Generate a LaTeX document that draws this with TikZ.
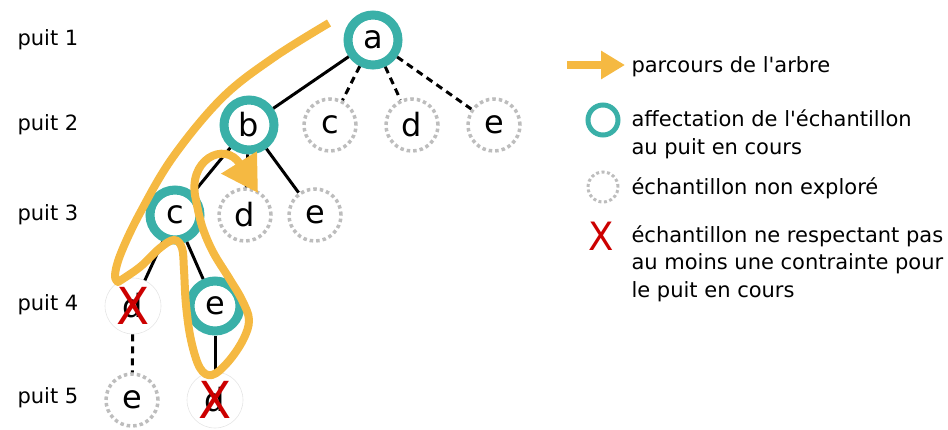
\documentclass[tikz,border=0pt]{standalone}
\usepackage{fontspec}
\setmainfont{DejaVu Sans}
\usetikzlibrary{positioning,arrows.meta}
\definecolor{sarcelle}{HTML}{3AB0A8}
\definecolor{orangeparc}{HTML}{F5B942}
\definecolor{grisclair}{HTML}{BDBDBD}
\definecolor{rouge}{HTML}{CC0000}

\tikzset{
  noeud/.style={circle,inner sep=0pt,font=\fontsize{32}{32}\selectfont},
  affecte/.style={noeud,draw=sarcelle,line width=9pt,minimum size=50pt},
  inexplore/.style={noeud,draw=grisclair,line width=3.5pt,dash pattern=on 3.5pt off 3pt,minimum size=52pt},
  rejete/.style={noeud,draw=black!10,line width=0.6pt,minimum size=56pt},
  croix/.style={text=rouge,inner sep=0pt,font=\fontsize{51}{51}\selectfont},
  arete/.style={line width=3pt},
  pointille/.style={arete,dash pattern=on 7pt off 5pt},
  parcours/.style={draw=orangeparc,line width=8pt,line join=round},
  puit/.style={anchor=west,font=\fontsize{21}{27}\selectfont},
  legende/.style={anchor=base west,align=left,font=\fontsize{21}{27.5}\selectfont}
}
\newcommand{\croixX}{\scalebox{0.95}[1]{X}}

\begin{document}
\begin{tikzpicture}[x=1pt,y=-1pt,on grid]
  \useasboundingbox (0,0) rectangle (948,429);

  % niveaux
  \node[puit] (p1) at (14,40) {puit 1};
  \node[puit] (p2) at (14,125) {puit 2};
  \node[puit] (p3) at (14,215) {puit 3};
  \node[puit] (p4) at (14,305) {puit 4};
  \node[puit] (p5) at (14,398) {puit 5};

  % arbre
  \node[affecte] (a) at (373,40) {a};
  \node[affecte] (b) at (249,125) {b};
  \node[inexplore] (c2) [right=81pt of b] {c};
  \node[inexplore] (d2) [right=82pt of c2] {d};
  \node[inexplore] (e2) [right=82pt of d2] {e};
  \node[affecte] (c3) at (175,215) {c};
  \node[inexplore] (d3) [right=70pt of c3] {d};
  \node[inexplore] (e3) [right=70pt of d3] {e};
  \node[rejete] (d4) at (133,306) {d};
  \node[affecte] (e4) [right=82pt of d4] {e};
  \node[inexplore] (e5) at (132,400) {e};
  \node[rejete] (d5) [right=83pt of e5] {d};
  \node[croix] (x4) at (d4) {\croixX};
  \node[croix] (x5) at (d5) {\croixX};

  \draw[arete] (a) -- (b);
  \draw[pointille] (a) -- (c2);
  \draw[pointille] (a) -- (d2);
  \draw[pointille] (a) -- (e2);
  \draw[arete] (b) -- (c3);
  \draw[arete] (b) -- (d3);
  \draw[arete] (b) -- (e3);
  \draw[arete] (c3) -- (d4);
  \draw[arete] (c3) -- (e4);
  \draw[pointille] (d4) -- (e5);
  \draw[arete] (e4) -- (d5);

  % parcours de l'arbre
  \draw[parcours,-{Triangle[length=36pt,width=40pt]}]
    plot[smooth,tension=0.6] coordinates {(329,23) (273,58) (222,98) (173,157) (140,213) (121,253) (115,275) (118,282)}
    -- plot[smooth,tension=0.6] coordinates {(118,282) (140,267) (160,248) (174,240) (182,248) (184,270) (186,305) (191,340) (200,368) (212,375) (228,362) (243,340) (249,320) (242,300) (229,278) (213,252) (202,226) (196,200)}
    .. controls (186,160) and (225,140) .. (258,193);

  % legende
  \coordinate (fl0) at (567,65);
  \coordinate (fl1) at (625,65);
  \draw[parcours,-{Triangle[length=24pt,width=27pt]}] (fl0) -- (fl1);
  \node[legende] (t1) at (628,72) {parcours de l\textquotesingle arbre};
  \node[circle,draw=sarcelle,line width=5pt,minimum size=30pt] (l2) at (603,120) {};
  \node[legende] (t2) at (628,154) {affectation de l\textquotesingle échantillon\\au puit en cours};
  \node[circle,draw=grisclair,line width=3pt,dash pattern=on 3pt off 2.5pt,minimum size=30pt] (l3) at (603,187) {};
  \node[legende] (t3) at (628,194) {échantillon non exploré};
  \node[croix,font=\fontsize{39}{39}\selectfont] (l4) at (601,236) {\croixX};
  \node[legende] (t4) at (628,297) {échantillon ne respectant pas\\au moins une contrainte pour\\le puit en cours};
\end{tikzpicture}
\end{document}
